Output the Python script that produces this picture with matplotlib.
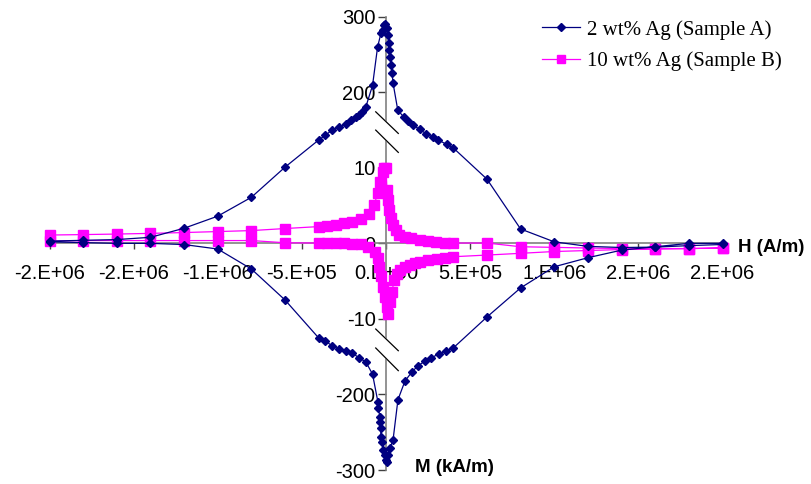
import numpy as np
import matplotlib.pyplot as plt

# Sample A (2 wt% Ag): H in A/m, M in kA/m
H_a_up = [-2.0e6, -1.8e6, -1.6e6, -1.4e6, -1.2e6, -1.0e6, -8.0e5, -6.0e5, -4.0e5, -3.6e5,
          -3.2e5, -2.8e5, -2.4e5, -2.1e5, -1.8e5, -1.6e5, -1.4e5, -1.2e5, -8.0e4, -5.0e4,
          -3.0e4, -1.8e4, -1.2e4, -6.0e3, 6.0e3, 1.2e4, 1.5e4, 1.8e4, 2.4e4, 3.0e4,
          3.6e4, 4.2e4, 7.0e4, 1.07e5, 1.3e5, 1.6e5, 2.0e5, 2.4e5, 2.8e5, 3.1e5,
          3.6e5, 4.0e5, 6.0e5, 8.0e5, 1.0e6, 1.2e6, 1.4e6, 1.6e6, 1.8e6, 2.0e6]
M_a_up = [0.3, 0.4, 0.5, 0.8, 2.0, 3.6, 6.1, 11.7, 80, 92,
          105, 112, 120, 130, 137, 142, 150, 163, 209, 260,
          278, 282, 289, 290, 285, 276, 265, 256, 246, 236,
          225, 212, 155, 137, 127, 117, 107, 95, 87, 80,
          69, 60, 8.5, 1.9, 0.2, -0.4, -0.55, -0.5, -0.3, -0.15]

H_a_low = [-2.0e6, -1.8e6, -1.6e6, -1.4e6, -1.2e6, -1.0e6, -8.0e5, -6.0e5, -4.0e5, -3.6e5,
           -3.2e5, -2.8e5, -2.4e5, -2.0e5, -1.6e5, -1.2e5, -8.0e4, -4.8e4, -4.6e4, -3.6e4,
           -3.4e4, -3.2e4, -3.0e4, -2.4e4, -1.8e4, -6.0e3, 0.0, 6.0e3, 1.2e4, 2.4e4,
           4.2e4, 7.1e4, 1.13e5, 1.55e5, 1.9e5, 2.32e5, 2.68e5, 3.15e5, 3.57e5, 4.0e5,
           6.0e5, 8.0e5, 1.0e6, 1.2e6, 1.4e6, 1.6e6, 1.8e6, 2.0e6]
M_a_low = [0.2, 0.1, 0.0, 0.0, -0.16, -0.75, -3.4, -7.5, -58, -65.5,
           -78, -85.6, -91, -96, -108, -118, -149, -210, -218, -230,
           -236, -244, -256, -263, -273, -280, -287, -290, -280, -271,
           -260, -207, -166, -143, -128, -116, -108, -98, -91, -83,
           -9.75, -5.9, -3.1, -1.9, -0.9, -0.45, 0.0, 0.0]

# Sample B (10 wt% Ag)
H_b_up = [-2.0e6, -1.8e6, -1.6e6, -1.4e6, -1.2e6, -1.0e6, -8.0e5, -6.0e5, -4.0e5, -3.5e5,
          -3.0e5, -2.5e5, -2.0e5, -1.5e5, -1.0e5, -7.0e4, -5.0e4, -3.5e4, -2.0e4, -1.0e4,
          0.0, 6.0e3, 1.2e4, 1.8e4, 3.0e4, 4.2e4, 6.0e4, 8.0e4, 1.1e5, 1.5e5,
          2.0e5, 2.5e5, 3.0e5, 3.5e5, 4.0e5, 6.0e5, 8.0e5, 1.0e6, 1.2e6, 1.4e6,
          1.6e6, 1.8e6, 2.0e6]
M_b_up = [1.1, 1.16, 1.23, 1.32, 1.43, 1.56, 1.69, 1.96, 2.22, 2.35,
          2.49, 2.69, 2.88, 3.21, 3.88, 5.07, 6.65, 8.1, 9.43, 9.96,
          10.1, 7.05, 5.73, 4.4, 3.35, 2.42, 1.76, 1.16, 0.9, 0.7,
          0.44, 0.3, 0.17, 0.1, 0.04, 0.04, -0.45, -0.53, -0.62, -0.69,
          -0.69, -0.69, -0.62]

H_b_low = [-2.0e6, -1.8e6, -1.6e6, -1.4e6, -1.2e6, -1.0e6, -8.0e5, -6.0e5, -4.0e5, -3.5e5,
           -3.0e5, -2.5e5, -2.0e5, -1.5e5, -1.07e5, -6.5e4, -4.8e4, -4.2e4, -3.0e4, -1.8e4,
           -6.0e3, 6.0e3, 1.2e4, 2.4e4, 3.6e4, 4.8e4, 6.5e4, 8.3e4, 1.1e5, 1.43e5,
           1.7e5, 2.02e5, 2.5e5, 3.03e5, 3.5e5, 4.0e5, 6.0e5, 8.0e5, 1.0e6, 1.2e6,
           1.4e6, 1.6e6, 1.8e6, 2.0e6]
M_b_low = [0.3, 0.37, 0.37, 0.37, 0.37, 0.37, 0.37, 0.08, 0.04, 0.02,
           0.0, 0.0, -0.03, -0.1, -0.45, -1.11, -1.94, -3.1, -4.3, -5.74,
           -7.06, -8.39, -9.3, -7.8, -6.4, -4.85, -4.0, -3.53, -3.15, -2.87,
           -2.65, -2.43, -2.27, -2.12, -1.95, -1.77, -1.55, -1.32, -1.08, -0.95,
           -0.82, -0.75, -0.69, -0.62]

xticks = [-2.0e6, -1.5e6, -1.0e6, -5.0e5, 0.0, 5.0e5, 1.0e6, 1.5e6, 2.0e6]
xtick_labels = ['-2.E+06', '-2.E+06', '-1.E+06', '-5.E+05', '0.E+00',
                '5.E+05', '1.E+06', '2.E+06', '2.E+06']
yticks = [-300, -200, -10, 0, 10, 200, 300]
ytick_labels = ['-300', '-200', '-10', '0', '10', '200', '300']


# gebroken y-as: |M|<=10 lineair, 10..200 samengeperst, 200..300 lineair
def fwd(m):
    m = np.asarray(m, dtype=float)
    a = np.abs(m)
    d = np.where(a <= 10, a / 10, np.where(a <= 200, 1 + (a - 10) / 190, 2 + (a - 200) / 100))
    return np.sign(m) * d


def inv(d):
    d = np.asarray(d, dtype=float)
    a = np.abs(d)
    m = np.where(a <= 1, a * 10, np.where(a <= 2, 10 + (a - 1) * 190, 200 + (a - 2) * 100))
    return np.sign(d) * m


fig = plt.figure(figsize=(8.11, 4.84), dpi=100)
ax = fig.add_axes([49.5 / 811, 14 / 484, 673 / 811, 453.3 / 484])
ax.set_yscale('function', functions=(fwd, inv))
ax.set_xlim(-2e6, 2e6)
ax.set_ylim(-300, 300)

# lus: bovenste tak heen, onderste tak terug
Ha = H_a_up + H_a_low[::-1]
Ma = M_a_up + M_a_low[::-1]
Hb = H_b_up + H_b_low[::-1]
Mb = M_b_up + M_b_low[::-1]

ax.plot(Hb, Mb, color='#FF00FF', lw=0.9, marker='s', ms=6.8, mec='#FF00FF',
        mfc='#FF00FF', clip_on=False, zorder=3, label='10 wt% Ag (Sample B)')
ax.plot(Ha, Ma, color='#000080', lw=0.9, marker='D', ms=4.4, mec='#000080',
        mfc='#000080', clip_on=False, zorder=4, label='2 wt% Ag (Sample A)')

# assen door de oorsprong
for s in ['top', 'right']:
    ax.spines[s].set_visible(False)
ax.spines['left'].set_position(('data', 0))
ax.spines['bottom'].set_position(('data', 0))
for s in ['left', 'bottom']:
    ax.spines[s].set_color('#808080')
    ax.spines[s].set_linewidth(1.2)

ax.set_xticks(xticks)
ax.set_xticklabels(xtick_labels)
ax.set_yticks(yticks)
ax.set_yticklabels(ytick_labels)
ax.minorticks_off()
ax.tick_params(axis='x', direction='out', length=4, width=1, color='#404040',
               labelsize=14.5, pad=11)
ax.tick_params(axis='y', direction='out', length=6, width=1, color='#404040',
               labelsize=14.5, pad=1.5)
for lab in ax.get_xticklabels() + ax.get_yticklabels():
    lab.set_family('Liberation Sans')

# breekstreepjes op de y-as
hx = [-6.1e4, 7.3e4]
for d1, d2 in [((1.741, 1.455), (1.499, 1.204)), ((-1.134, -1.421), (-1.385, -1.685))]:
    poly_x = [hx[0], hx[1], hx[1], hx[0]]
    poly_y = inv([d1[0], d1[1], d2[1], d2[0]])
    ax.fill(poly_x, poly_y, color='white', zorder=2.6, clip_on=False)
    ax.plot(hx, inv(list(d1)), color='black', lw=0.9, zorder=2.7, clip_on=False)
    ax.plot(hx, inv(list(d2)), color='black', lw=0.9, zorder=2.7, clip_on=False)

fig.text(738 / 811, 1 - 247 / 484, 'H (A/m)', family='Liberation Sans',
         weight='bold', size=13.5, ha='left', va='center')
fig.text(415 / 811, 1 - 467 / 484, 'M (kA/m)', family='Liberation Sans',
         weight='bold', size=13.5, ha='left', va='center')

h, l = ax.get_legend_handles_labels()
ax.legend(h[::-1], l[::-1], loc='upper left', bbox_to_anchor=(542 / 811, 1 - 20 / 484),
          bbox_transform=fig.transFigure, frameon=False, borderpad=0, borderaxespad=0,
          handlelength=1.8, handletextpad=0.35, labelspacing=0.55, markerscale=0.85,
          prop={'family': 'Liberation Serif', 'size': 15})

fig.savefig('out.png', dpi=100)
